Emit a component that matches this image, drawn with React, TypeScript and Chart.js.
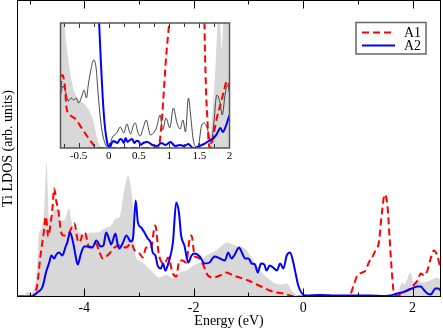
import React, { useEffect, useRef } from "react";
import { Chart, registerables } from "chart.js";

Chart.register(...registerables);

const SERIF = '"Liberation Serif", "Times New Roman", serif';

// ---------- main panel data ----------
const mainTicks = [-4, -2, 0, 2];
const mainMinorTicks = [-5, -3, -1, 1];

const totalE = [-5.22, -5.1, -5.04, -4.98, -4.92, -4.86, -4.83, -4.78, -4.73, -4.69, -4.64, -4.58, -4.49, -4.43, -4.37, -4.28, -4.22, -4.12, -4.0, -3.88, -3.76, -3.63, -3.51, -3.42, -3.36, -3.27, -3.2, -3.16, -3.11, -3.08, -2.99, -2.87, -2.75, -2.62, -2.5, -2.38, -2.26, -2.13, -2.01, -1.89, -1.77, -1.65, -1.52, -1.4, -1.34, -1.19, -1.06, -0.97, -0.88, -0.76, -0.64, -0.51, -0.39, -0.3, -0.21, -0.09, -0.02, 1.6, 1.66, 1.72, 1.81, 1.85, 1.96, 2.02, 2.09, 2.18, 2.27, 2.36, 2.45, 2.51];
const totalV = [0, 0, 0.5, 0.3, 0.8, 3.0, 6.3, 6.8, 9.0, 13.3, 7.8, 8.3, 8.8, 7.6, 7.6, 8.8, 7.2, 6.6, 6.1, 6.4, 6.4, 6.8, 7.1, 7.8, 7.9, 10.6, 12.1, 11.4, 8.9, 4.5, 3.6, 3.1, 2.4, 1.9, 2.2, 1.8, 2.4, 2.6, 3.1, 3.4, 4.1, 4.4, 4.9, 5.4, 5.3, 5.0, 4.8, 4.1, 3.4, 2.4, 1.8, 1.3, 1.2, 1.3, 0.6, 0.1, 0, 0, 0.1, 0.2, 1.4, 1.2, 2.4, 1.4, 1.7, 1.4, 1.5, 1.7, 1.9, 1.7];

const a1E = [-5.22, -4.95, -4.92, -4.86, -4.8, -4.75, -4.7, -4.66, -4.61, -4.58, -4.55, -4.51, -4.47, -4.43, -4.38, -4.3, -4.22, -4.18, -4.12, -4.09, -4.03, -3.99, -3.91, -3.79, -3.72, -3.66, -3.54, -3.45, -3.36, -3.24, -3.14, -3.08, -2.99, -2.93, -2.87, -2.78, -2.72, -2.7, -2.64, -2.53, -2.47, -2.38, -2.32, -2.26, -2.2, -2.14, -2.07, -2.04, -1.98, -1.92, -1.83, -1.74, -1.65, -1.52, -1.4, -1.28, -1.16, -1.0, -0.85, -0.73, -0.61, -0.48, -0.36, -0.24, -0.15, 0.84, 0.92, 0.99, 1.08, 1.14, 1.2, 1.26, 1.32, 1.38, 1.44, 1.49, 1.54, 1.58, 1.63, 1.66, 1.72, 1.81, 1.9, 1.99, 2.09, 2.15, 2.21, 2.27, 2.33, 2.39, 2.45, 2.51];
const a1V = [0, 0, 0.2, 1.1, 4.1, 6.0, 8.0, 6.0, 7.5, 8.9, 10.8, 9.5, 8.5, 6.6, 6.1, 6.2, 7.0, 7.3, 5.6, 5.4, 6.2, 6.4, 4.9, 5.3, 4.4, 3.8, 4.3, 4.9, 5.1, 4.9, 5.3, 4.6, 4.3, 3.9, 4.9, 4.8, 6.9, 7.1, 4.3, 3.3, 3.9, 2.3, 2.0, 3.6, 3.6, 3.4, 5.9, 6.1, 4.0, 3.9, 3.2, 2.1, 1.9, 2.1, 2.4, 2.1, 1.9, 1.6, 1.2, 0.9, 0.6, 0.4, 0.3, 0.1, 0, 0, 1.1, 2.1, 2.4, 2.6, 3.4, 3.9, 4.6, 5.3, 8.4, 10.2, 9.1, 5.8, 1.8, 0.3, 0.1, 0.3, 0.6, 1.0, 1.6, 2.3, 2.1, 2.6, 3.8, 4.6, 4.1, 2.8];

const a2E = [-5.22, -4.95, -4.9, -4.86, -4.76, -4.7, -4.64, -4.6, -4.55, -4.51, -4.46, -4.4, -4.34, -4.31, -4.26, -4.2, -4.16, -4.12, -4.06, -4.0, -3.94, -3.85, -3.78, -3.7, -3.65, -3.6, -3.55, -3.51, -3.43, -3.39, -3.36, -3.3, -3.23, -3.15, -3.11, -3.06, -3.02, -2.96, -2.9, -2.84, -2.78, -2.75, -2.7, -2.66, -2.6, -2.56, -2.52, -2.46, -2.38, -2.32, -2.27, -2.23, -2.17, -2.1, -2.04, -1.98, -1.89, -1.8, -1.71, -1.62, -1.52, -1.43, -1.37, -1.31, -1.26, -1.17, -1.12, -1.06, -1.0, -0.94, -0.88, -0.83, -0.77, -0.71, -0.67, -0.61, -0.55, -0.48, -0.42, -0.36, -0.3, -0.24, -0.18, -0.13, -0.09, -0.02, 0.05, 0.3, 0.6, 0.9, 1.2, 1.5, 1.6, 1.72, 1.81, 1.9, 1.99, 2.09, 2.15, 2.2, 2.27, 2.33, 2.42, 2.47, 2.51];
const a2V = [0, 0, 0.2, 0.4, 1.0, 2.4, 3.4, 4.1, 3.8, 4.2, 4.4, 4.1, 5.0, 5.4, 6.4, 5.3, 4.1, 3.2, 4.3, 5.0, 5.0, 4.9, 5.6, 5.0, 5.1, 6.4, 5.8, 5.2, 6.3, 5.2, 4.8, 5.3, 6.1, 5.5, 5.8, 9.6, 7.4, 6.9, 6.4, 5.8, 5.3, 4.4, 4.1, 3.1, 2.8, 3.3, 2.6, 3.4, 5.4, 9.4, 8.4, 6.1, 5.1, 3.4, 4.1, 4.3, 4.0, 3.3, 3.4, 4.0, 3.8, 3.6, 4.4, 3.8, 4.1, 4.9, 4.4, 3.8, 3.8, 3.3, 3.2, 2.4, 3.3, 3.2, 2.6, 3.1, 2.9, 2.6, 3.3, 2.8, 4.1, 4.4, 3.4, 2.1, 1.1, 0.3, 0.1, 0.15, 0.1, 0.1, 0.1, 0.05, 0.1, 0.3, 0.4, 0.6, 0.8, 1.0, 1.0, 0.7, 0.3, 0.2, 0.8, 0.8, 0.6];

// ---------- inset data ----------
const insetTicks = [-0.5, 0, 0.5, 1, 1.5, 2];
const insetMinorTicks = [-0.75, -0.25, 0.25, 0.75, 1.25, 1.75];

const inTotalE = [-0.8, -0.74, -0.69, -0.6, -0.52, -0.39, -0.27, -0.19, -0.14, -0.1, 1.64, 1.68, 1.71, 1.75, 1.78, 1.82, 1.85, 1.87, 1.9, 1.93, 2.0];
const inTotalV = [14, 12.5, 9.7, 6.3, 5.0, 4.3, 3.0, 1.0, 0.1, 0, 0, 1.0, 3.0, 6.3, 9.7, 14, 12, 10, 13, 16, 16];

const inLineE = [-0.8, -0.76, -0.71, -0.67, -0.62, -0.58, -0.54, -0.5, -0.45, -0.41, -0.37, -0.34, -0.3, -0.25, -0.21, -0.18, -0.14, -0.1, -0.05, -0.01, 0.02, 0.06, 0.1, 0.14, 0.19, 0.25, 0.3, 0.36, 0.41, 0.44, 0.48, 0.52, 0.57, 0.62, 0.69, 0.74, 0.79, 0.85, 0.89, 0.95, 1.01, 1.07, 1.13, 1.18, 1.23, 1.27, 1.32, 1.36, 1.4, 1.45, 1.49, 1.54, 1.58, 1.64, 1.7, 1.74, 1.79, 1.84, 1.88, 1.93, 1.97, 2.0];
const inLineV = [5.3, 6.2, 5.5, 4.7, 5.0, 4.8, 5.0, 4.5, 5.1, 5.8, 5.0, 6.3, 7.7, 8.8, 8.0, 5.7, 3.0, 1.3, 0.3, 0, 0.3, 1.1, 1.3, 1.6, 2.1, 1.5, 2.4, 1.4, 2.3, 2.5, 1.6, 1.2, 2.0, 2.8, 1.3, 1.5, 2.0, 3.3, 1.8, 3.0, 2.0, 4.0, 2.5, 1.9, 2.8, 1.6, 5.0, 3.0, 0.8, 0.1, 0.4, 2.3, 2.5, 1.8, 0.4, 2.5, 5.3, 4.6, 3.3, 5.5, 6.3, 5.5];

const inA1E = [-0.8, -0.77, -0.73, -0.7, -0.67, -0.55, -0.45, -0.35, -0.25, -0.2, 0.82, 0.87, 0.91, 0.95, 0.99, 1.05, 1.15, 1.3, 1.45, 1.5, 1.55, 1.58, 1.61, 1.63, 1.66, 1.68, 1.74, 1.79, 1.87, 1.91, 1.96, 2.0];
const inA1V = [6.0, 7.3, 6.3, 4.0, 3.5, 2.9, 2.0, 1.1, 0.3, 0, 0, 2.1, 5.5, 9.1, 11.8, 16, 25, 40, 90, 100, 40, 15, 6, 3.3, 0.3, 0, 1.5, 3.0, 4.8, 5.8, 6.7, 6.2];

const inA2E = [-0.8, -0.3, -0.2, -0.16, -0.13, -0.1, -0.07, -0.04, -0.01, 0.02, 0.05, 0.08, 0.11, 0.14, 0.19, 0.22, 0.25, 0.28, 0.31, 0.35, 0.39, 0.42, 0.46, 0.49, 0.53, 0.57, 0.64, 0.72, 0.8, 0.87, 0.94, 1.02, 1.1, 1.18, 1.25, 1.32, 1.37, 1.43, 1.5, 1.58, 1.63, 1.68, 1.74, 1.79, 1.85, 1.89, 1.94, 2.0];
const inA2V = [40, 40, 20, 12.5, 8.5, 5.0, 2.5, 1.0, 0.2, 0.1, 0.5, 0.7, 0.6, 0.5, 0.9, 0.8, 0.5, 1.0, 0.6, 0.8, 0.9, 0.5, 0.7, 0.7, 0.3, 0.5, 0.6, 0.3, 0.2, 0.5, 0.3, 0.6, 0.2, 0.3, 0.2, 0.4, 0.1, 0, 0.2, 0.4, 0.6, 0.8, 1.0, 1.4, 2.0, 1.6, 2.2, 3.3];

const pts = (xs: number[], ys: number[]) => xs.map((x, i) => ({ x, y: ys[i] }));

const RED = "#ff0000";
const BLUE = "#0000ff";
const GREY = "#d8d8d8";

const frameTicksPlugin = {
  id: "frameTicks",
  beforeDraw(chart: any, _a: any, opts: any) {
    if (!opts.fillBg) return;
    const { ctx, chartArea } = chart;
    ctx.save();
    ctx.fillStyle = "#ffffff";
    ctx.fillRect(chartArea.left, chartArea.top, chartArea.right - chartArea.left, chartArea.bottom - chartArea.top);
    ctx.restore();
  },
  afterDatasetsDraw(chart: any, _a: any, opts: any) {
    const { ctx, chartArea } = chart;
    const { left, right, top, bottom } = chartArea;
    const x = chart.scales.x;
    ctx.save();
    ctx.setLineDash([]);
    ctx.strokeStyle = opts.tickColor;
    ctx.lineWidth = 1;
    ctx.beginPath();
    const draw = (vals: number[], len: number) => {
      vals.forEach((v) => {
        const p = Math.round(x.getPixelForValue(v)) + 0.5;
        ctx.moveTo(p, bottom);
        ctx.lineTo(p, bottom - len);
        ctx.moveTo(p, top);
        ctx.lineTo(p, top + len);
      });
    };
    draw(opts.major, opts.majorLen);
    draw(opts.minor, opts.minorLen);
    ctx.stroke();
    ctx.strokeStyle = opts.color;
    ctx.lineWidth = opts.lineWidth;
    ctx.strokeRect(left, top, right - left, bottom - top);
    ctx.restore();
  },
};

const boxLegendPlugin = {
  id: "boxLegend",
  afterDraw(chart: any, _a: any, opts: any) {
    const { ctx } = chart;
    const items = chart.data.datasets.filter((d: any) => d.label);
    ctx.save();
    ctx.fillStyle = "#ffffff";
    ctx.fillRect(opts.x, opts.y, opts.w, opts.h);
    ctx.strokeStyle = opts.borderColor;
    ctx.lineWidth = 1.5;
    ctx.strokeRect(opts.x, opts.y, opts.w, opts.h);
    items.forEach((d: any, i: number) => {
      const y = Math.round(opts.y + opts.firstRow + i * opts.rowGap) + 0.5;
      ctx.strokeStyle = d.borderColor;
      ctx.lineWidth = d.borderWidth;
      ctx.setLineDash(d.borderDash || []);
      ctx.beginPath();
      ctx.moveTo(opts.x + opts.lineStart, y);
      ctx.lineTo(opts.x + opts.lineEnd, y);
      ctx.stroke();
      ctx.setLineDash([]);
      ctx.fillStyle = "#000000";
      ctx.font = `14px ${SERIF}`;
      ctx.textBaseline = "middle";
      ctx.textAlign = "left";
      ctx.fillText(d.label, opts.x + opts.textX, y + 1);
    });
    ctx.restore();
  },
};

function MainChart() {
  const ref = useRef<HTMLCanvasElement | null>(null);
  useEffect(() => {
    if (!ref.current) return;
    const chart = new Chart(ref.current, {
      type: "line",
      data: {
        datasets: [
          {
            label: "",
            data: pts(totalE, totalV),
            borderWidth: 0,
            borderColor: GREY,
            backgroundColor: GREY,
            fill: "origin",
            pointRadius: 0,
            cubicInterpolationMode: "monotone",
            order: 3,
          } as any,
          {
            label: "A1",
            data: pts(a1E, a1V),
            borderColor: RED,
            borderWidth: 2,
            borderDash: [7, 4],
            fill: false,
            pointRadius: 0,
            cubicInterpolationMode: "monotone",
            order: 2,
          },
          {
            label: "A2",
            data: pts(a2E, a2V),
            borderColor: BLUE,
            borderWidth: 2,
            fill: false,
            pointRadius: 0,
            cubicInterpolationMode: "monotone",
            order: 1,
          },
        ],
      },
      options: {
        animation: false,
        responsive: false,
        devicePixelRatio: 1,
        events: [],
        layout: { padding: { top: 0.5, right: 2.5, left: 0, bottom: 0 } },
        plugins: {
          legend: { display: false },
          tooltip: { enabled: false },
          frameTicks: {
            color: "#000000",
            tickColor: "#000000",
            lineWidth: 1,
            major: mainTicks,
            minor: mainMinorTicks,
            majorLen: 8,
            minorLen: 4,
          },
          boxLegend: {
            x: 356,
            y: 22.5,
            w: 70,
            h: 31.5,
            firstRow: 9.5,
            rowGap: 13,
            lineStart: 6,
            lineEnd: 39,
            textX: 48,
            borderColor: "#666666",
          },
        } as any,
        scales: {
          x: {
            type: "linear",
            min: -5.22,
            max: 2.51,
            afterBuildTicks: (ax: any) => {
              ax.ticks = mainTicks.map((v) => ({ value: v }));
            },
            afterFit: (ax: any) => {
              ax.height = 33.5;
            },
            grid: { display: false, drawTicks: false },
            border: { display: false },
            ticks: {
              color: "#000000",
              font: { family: SERIF, size: 14 },
              padding: 3,
              autoSkip: false,
              maxRotation: 0,
              callback: (v: any) => String(v),
            },
            title: {
              display: true,
              text: "Energy (eV)",
              color: "#000000",
              font: { family: SERIF, size: 14 },
              padding: 0,
            },
          } as any,
          y: {
            min: 0,
            max: 29.6,
            afterFit: (ax: any) => {
              ax.width = 17.5;
            },
            grid: { display: false, drawTicks: false },
            border: { display: false },
            ticks: { display: false },
            title: {
              display: true,
              text: "Ti LDOS (arb. units)",
              color: "#000000",
              font: { family: SERIF, size: 14 },
              padding: 0,
            },
          } as any,
        },
      },
      plugins: [frameTicksPlugin, boxLegendPlugin],
    });
    return () => chart.destroy();
  }, []);
  return <canvas ref={ref} width={443} height={330} style={{ position: "absolute", left: 0, top: 0, width: 443, height: 330 }} />;
}

function InsetChart() {
  const ref = useRef<HTMLCanvasElement | null>(null);
  useEffect(() => {
    if (!ref.current) return;
    const chart = new Chart(ref.current, {
      type: "line",
      data: {
        datasets: [
          {
            label: "",
            data: pts(inTotalE, inTotalV),
            borderWidth: 0,
            borderColor: GREY,
            backgroundColor: GREY,
            fill: "origin",
            pointRadius: 0,
            cubicInterpolationMode: "monotone",
            order: 4,
          } as any,
          {
            label: "",
            data: pts(inLineE, inLineV),
            borderColor: "#333333",
            borderWidth: 0.9,
            fill: false,
            pointRadius: 0,
            cubicInterpolationMode: "monotone",
            order: 3,
          },
          {
            label: "A1",
            data: pts(inA1E, inA1V),
            borderColor: RED,
            borderWidth: 2,
            borderDash: [7, 4],
            fill: false,
            pointRadius: 0,
            cubicInterpolationMode: "monotone",
            order: 2,
          },
          {
            label: "A2",
            data: pts(inA2E, inA2V),
            borderColor: BLUE,
            borderWidth: 2,
            fill: false,
            pointRadius: 0,
            cubicInterpolationMode: "monotone",
            order: 1,
          },
        ],
      },
      options: {
        animation: false,
        responsive: false,
        devicePixelRatio: 1,
        events: [],
        layout: { padding: { top: 5, right: 5.5, left: 5.5, bottom: 0 } },
        plugins: {
          legend: { display: false },
          tooltip: { enabled: false },
          frameTicks: {
            fillBg: true,
            color: "#555555",
            tickColor: "#333333",
            lineWidth: 1.5,
            major: insetTicks.slice(0, 5),
            minor: insetMinorTicks,
            majorLen: 5,
            minorLen: 4,
          },
        } as any,
        scales: {
          x: {
            type: "linear",
            min: -0.8,
            max: 2,
            afterBuildTicks: (ax: any) => {
              ax.ticks = insetTicks.map((v) => ({ value: v }));
            },
            afterFit: (ax: any) => {
              ax.height = 20;
            },
            grid: { display: false, drawTicks: false },
            border: { display: false },
            ticks: {
              color: "#000000",
              font: { family: SERIF, size: 11 },
              padding: 2,
              autoSkip: false,
              maxRotation: 0,
              callback: (v: any) => String(v),
            },
          } as any,
          y: {
            display: false,
            min: 0,
            max: 12.5,
          },
        },
      },
      plugins: [frameTicksPlugin],
    });
    return () => chart.destroy();
  }, []);
  return <canvas ref={ref} width={180} height={150} style={{ position: "absolute", left: 55, top: 18, width: 180, height: 150 }} />;
}

export default function App() {
  return (
    <div style={{ position: "fixed", left: 0, top: 0, width: 443, height: 330, background: "#ffffff", overflow: "hidden" }}>
      <MainChart />
      <InsetChart />
    </div>
  );
}
